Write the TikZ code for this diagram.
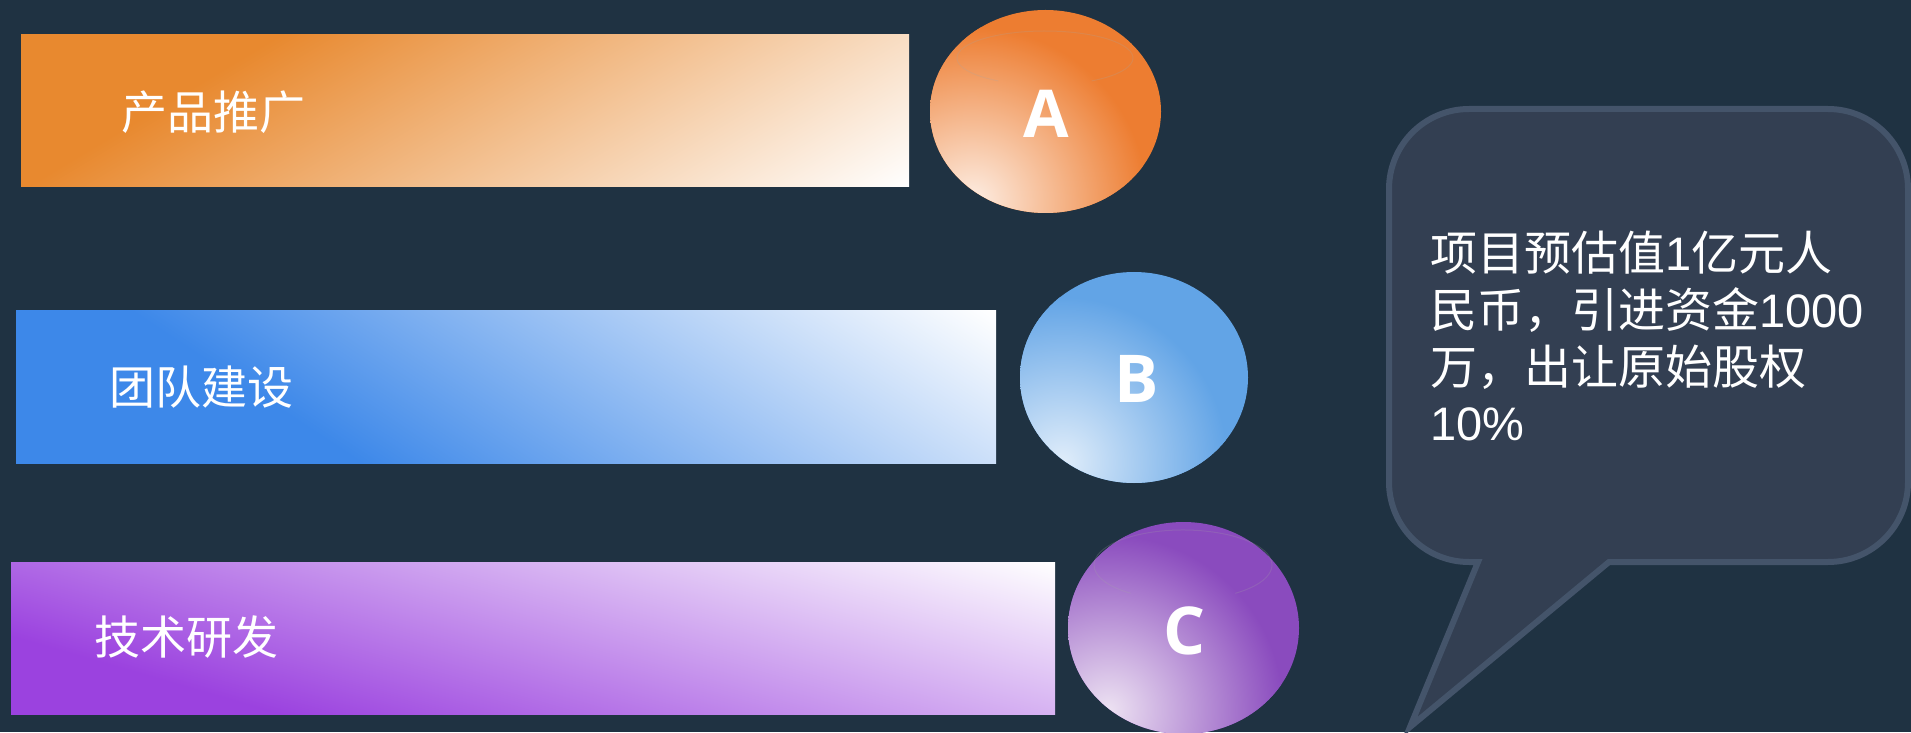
\documentclass[tikz,border=0pt]{standalone}
\usepackage{fontspec}
\newfontfamily\cjk{Noto Sans CJK SC}
\newfontfamily\lat{Liberation Sans}
\newfontfamily\letterfont{Open Sans}
\definecolor{bg}{HTML}{1F3242}
\definecolor{orA}{HTML}{E8892F}
\definecolor{blB}{HTML}{3D88E9}
\definecolor{puC}{HTML}{9B42DF}
\definecolor{cirA}{HTML}{ED7D31}
\definecolor{cirAl}{HTML}{FDEEE4}
\definecolor{cirB}{HTML}{62A4E6}
\definecolor{cirBl}{HTML}{E0EDFA}
\definecolor{cirC}{HTML}{8A4BBE}
\definecolor{cirCl}{HTML}{EDE2F2}
\definecolor{callfill}{HTML}{333F52}
\definecolor{callline}{HTML}{44546A}
\pgfdeclarehorizontalshading{gradA}{100bp}{color(0bp)=(orA); color(42.69bp)=(orA); color(63.34bp)=(white); color(100bp)=(white)}
\pgfdeclarehorizontalshading{gradB}{100bp}{color(0bp)=(blB); color(43.46bp)=(blB); color(65.15bp)=(white); color(100bp)=(white)}
\pgfdeclarehorizontalshading{gradC}{100bp}{color(0bp)=(puC); color(43.5bp)=(puC); color(59.89bp)=(white); color(100bp)=(white)}
\tikzset{
  barlabel/.style={anchor=west, inner sep=0pt, text=white, font=\cjk\fontsize{46}{50}\selectfont},
  letter/.style={inner sep=0pt, text=white, font=\letterfont\bfseries\fontsize{66}{70}\selectfont},
  gloss/.style={draw=gray!70!white, draw opacity=0.22, line width=1pt},
  callout/.style={fill=callfill, draw=callline, line width=6pt, line join=miter},
}
\begin{document}
\begin{tikzpicture}[x=1pt, y=1pt]
\useasboundingbox (0,0) rectangle (1911,732);
\fill[bg] (0,0) rectangle (1911,732);

% ---- bar A ----
\begin{scope}
  \clip (21,545) rectangle (909,697);
  \shade[shading=gradA, shading angle=-59.1] (-85,71) rectangle (1015,1171);
\end{scope}
% ---- bar B ----
\begin{scope}
  \clip (16,269) rectangle (996,421);
  \shade[shading=gradB, shading angle=56.5] (-44,-205) rectangle (1056,895);
\end{scope}
% ---- bar C ----
\begin{scope}
  \clip (11,18) rectangle (1055,170);
  \shade[shading=gradC, shading angle=73.9] (-17,-456) rectangle (1083,644);
\end{scope}

\node[barlabel] (labA) at (121,620) {产品推广};
\node[barlabel] (labB) at (109,345) {团队建设};
\node[barlabel] (labC) at (94,95) {技术研发};

% ---- circle A ----
\fill[cirA] (1045.5,620.5) ellipse [x radius=115.5, y radius=101.5];
\begin{scope}
  \clip (1045.5,620.5) ellipse [x radius=115.5, y radius=101.5];
  \shade[inner color=cirAl, outer color=cirA] (972,530) circle [radius=175];
\end{scope}
\draw[gloss] (1091.6,651.1) arc [start angle=-58, end angle=238, x radius=88, y radius=27];
\node[letter] (letA) at (1046,618) {A};

% ---- circle B ----
\fill[cirB] (1134,354.5) ellipse [x radius=114, y radius=105.5];
\begin{scope}
  \clip (1134,354.5) ellipse [x radius=114, y radius=105.5];
  \shade[inner color=cirBl, outer color=cirB] (1062,270) circle [radius=165];
\end{scope}
\node[letter] (letB) at (1137,353) {B};

% ---- circle C ----
\fill[cirC] (1183.5,104) ellipse [x radius=115.5, y radius=106];
\begin{scope}
  \clip (1183.5,104) ellipse [x radius=115.5, y radius=106];
  \shade[inner color=cirCl, outer color=cirC] (1108,22) circle [radius=175];
\end{scope}
\draw[gloss] (1235.3,138.7) arc [start angle=-54, end angle=234, x radius=89, y radius=35];
\node[letter] (letC) at (1185,101) {C};

% ---- callout ----
\draw[callout] (1478,170) -- (1410,5) -- (1609,170) -- (1828,170)
  arc [start angle=-90, end angle=0, radius=80] -- (1908,543)
  arc [start angle=0, end angle=90, radius=80] -- (1469,623)
  arc [start angle=90, end angle=180, radius=80] -- (1389,250)
  arc [start angle=180, end angle=270, radius=80] -- cycle;

\node[anchor=north west, align=left, inner sep=0pt, text=white,
      font=\cjk\fontsize{47}{56.7}\selectfont] (txt) at (1430,501)
  {项目预估值{\lat 1}亿元人\\民币，引进资金{\lat 1000}\\万，出让原始股权\\{\lat 10\%}};
\end{tikzpicture}
\end{document}
